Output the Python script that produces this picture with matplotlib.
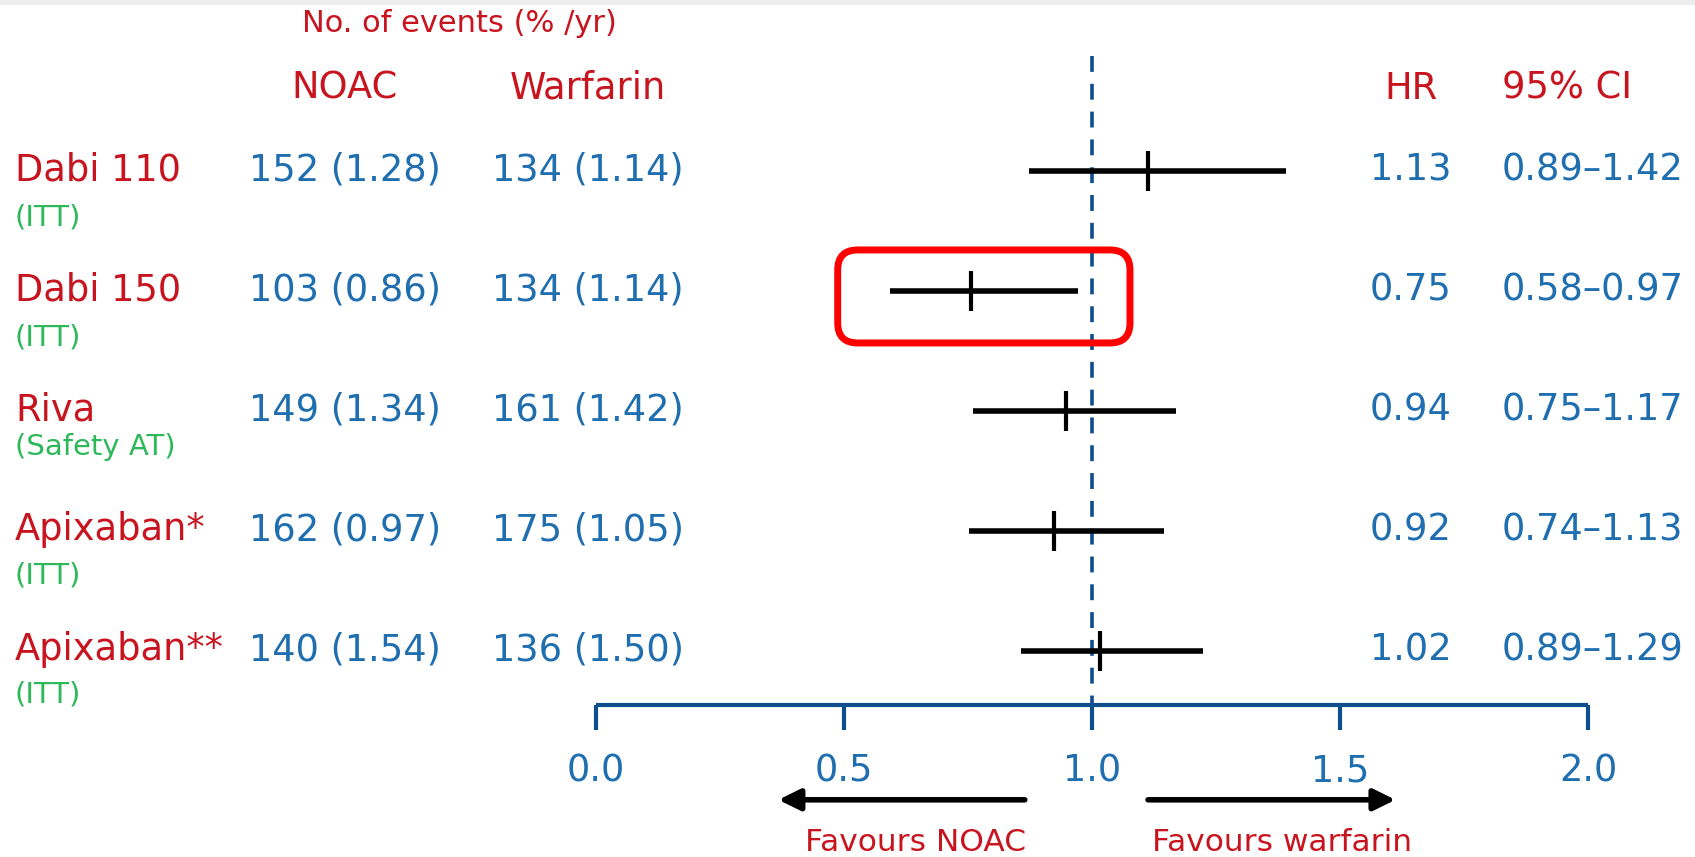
import matplotlib
matplotlib.use("Agg")
import matplotlib.pyplot as plt
from matplotlib.patches import FancyBboxPatch, FancyArrowPatch, Rectangle

# ---- data ----
drugs = ["Dabi 110", "Dabi 150", "Riva", "Apixaban*", "Apixaban**"]
populations = ["(ITT)", "(ITT)", "(Safety AT)", "(ITT)", "(ITT)"]
noac_events = ["152 (1.28)", "103 (0.86)", "149 (1.34)", "162 (0.97)", "140 (1.54)"]
warfarin_events = ["134 (1.14)", "134 (1.14)", "161 (1.42)", "175 (1.05)", "136 (1.50)"]
hr_text = ["1.13", "0.75", "0.94", "0.92", "1.02"]
ci_text = ["0.89\u20131.42", "0.58\u20130.97", "0.75\u20131.17", "0.74\u20131.13", "0.89\u20131.29"]
# plotted estimates (read from the drawn marks)
hr = [1.113, 0.757, 0.947, 0.923, 1.016]
ci_lo = [0.872, 0.593, 0.760, 0.752, 0.857]
ci_hi = [1.391, 0.971, 1.169, 1.145, 1.223]
xticks = [0.0, 0.5, 1.0, 1.5, 2.0]
xtick_labels = ["0.0", "0.5", "1.0", "1.5", "2.0"]

RED = "#C8141E"
BLUE = "#1F6EB0"
GREEN = "#2DB85A"
NAVY = "#0E4E8E"

W, H = 1695, 857
fig = plt.figure(figsize=(W / 100, H / 100), dpi=100)
ax = fig.add_axes([0, 0, 1, 1])
ax.set_axis_off()
# x: data units (HR); y: row index
x0_px, px_per_unit = 596, 496
y0_px, px_per_row = 171, 120
ax.set_xlim(-x0_px / px_per_unit, (W - x0_px) / px_per_unit)
ax.set_ylim((H - y0_px) / px_per_row, -y0_px / px_per_row)

# light band at top
fig.add_artist(Rectangle((0, 1 - 5 / H), 1, 5 / H, transform=fig.transFigure,
                         color="#EDEDED", lw=0))

FONT = "DejaVu Sans"
fs_main = 26.5
fs_sub = 21

# header
ax.text(-0.2754, -1.23, "No. of events (% /yr)", color=RED, fontsize=22,
        family=FONT, ha="center", va="center")
hdr_y = -0.69
ax.text(-0.5065, hdr_y, "NOAC", color=RED, fontsize=fs_main, family=FONT, ha="center", va="center")
ax.text(-0.0171, hdr_y, "Warfarin", color=RED, fontsize=fs_main, family=FONT, ha="center", va="center")
ax.text(1.6425, hdr_y, "HR", color=RED, fontsize=fs_main, family=FONT, ha="center", va="center")
ax.text(1.826, hdr_y, "95% CI", color=RED, fontsize=fs_main, family=FONT, ha="left", va="center")

sub_off = [0.39, 0.39, 0.30, 0.37, 0.36]
txt_off = -0.01
for i in range(len(drugs)):
    y = i + txt_off
    ax.text(-1.1714, y, drugs[i], color=RED, fontsize=fs_main, family=FONT, ha="left", va="center")
    ax.text(-1.1714, i + sub_off[i], populations[i], color=GREEN, fontsize=fs_sub,
            family=FONT, ha="left", va="center")
    ax.text(-0.5065, y, noac_events[i], color=BLUE, fontsize=fs_main, family=FONT, ha="center", va="center")
    ax.text(-0.0171, y, warfarin_events[i], color=BLUE, fontsize=fs_main, family=FONT, ha="center", va="center")
    ax.text(1.6425, y, hr_text[i], color=BLUE, fontsize=fs_main, family=FONT, ha="center", va="center")
    ax.text(1.826, y, ci_text[i], color=BLUE, fontsize=fs_main, family=FONT, ha="left", va="center")

rows = list(range(len(drugs)))
# confidence intervals
ax.hlines(rows, ci_lo, ci_hi, color="black", lw=4.0, zorder=4)
ax.plot(hr, rows, ls="none", marker="|", markersize=29, mew=3.0, color="black", zorder=5)

# reference line at 1.0
axis_y = 4.45
ax.plot([1.0, 1.0], [-0.958, axis_y], color=NAVY, lw=2.6, dashes=(4.4, 3.3), zorder=3)

# x axis
ax.plot([xticks[0], xticks[-1]], [axis_y, axis_y], color=NAVY, lw=3.0,
        solid_capstyle="butt", zorder=3)
ax.vlines(xticks, axis_y, axis_y + 0.21, color=NAVY, lw=3.0, zorder=3)
for t, lab in zip(xticks, xtick_labels):
    ax.text(t, 4.964, lab, color=BLUE, fontsize=fs_main, family=FONT, ha="center",
            va="center_baseline")

# favours arrows
arrow_y = 5.24
for xs, xe in [(0.8645, 0.3676), (1.113, 1.612)]:
    ax.add_patch(FancyArrowPatch((xs, arrow_y), (xe, arrow_y),
                                 arrowstyle="-|>,head_length=0.65,head_width=0.32",
                                 mutation_scale=20, lw=4.0, color="black",
                                 shrinkA=0, shrinkB=0))
ax.text(0.644, 5.6, "Favours NOAC", color=RED, fontsize=22.5, family=FONT, ha="center", va="center")
ax.text(1.384, 5.6, "Favours warfarin", color=RED, fontsize=22.5, family=FONT, ha="center", va="center")

# highlight box around Dabi 150
ax.add_patch(FancyBboxPatch((0.4873, 0.658), 1.0766 - 0.4873, 1.433 - 0.658,
                            boxstyle="round,pad=0,rounding_size=0.0403",
                            mutation_aspect=px_per_unit / px_per_row,
                            fill=False, ec="#FF0000", lw=5.0, zorder=6))

fig.savefig("out.png", dpi=100)
